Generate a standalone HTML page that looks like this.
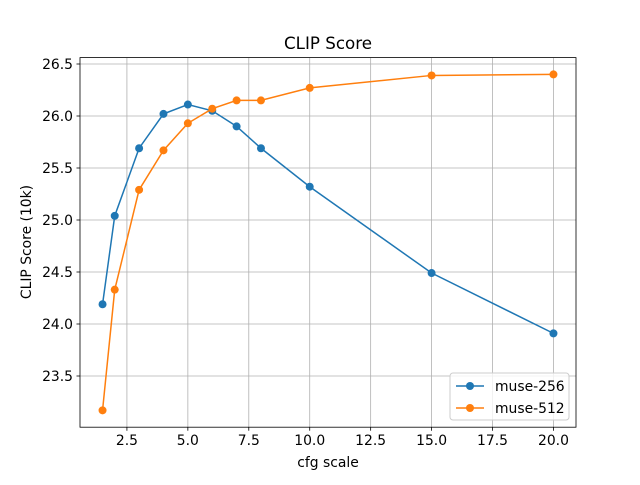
<!DOCTYPE html>
<html><head><meta charset="utf-8"><style>
body{margin:0;background:#fff;}
svg{font-family:"DejaVu Sans","Liberation Sans",sans-serif;}
</style></head><body>
<svg id="chart" width="640" height="480">
<rect width="640" height="480" fill="#fff"/>
<g id="grid"></g><g id="ticks"></g><g id="series"></g>
<rect x="80" y="57.6" width="496" height="369.6" fill="none" stroke="#000" stroke-width="0.8"/>
<text x="328" y="49" font-size="16.7" text-anchor="middle">CLIP Score</text>
<text x="328" y="467" font-size="13.9" text-anchor="middle">cfg scale</text>
<text x="31" y="242" font-size="13.9" text-anchor="middle" transform="rotate(-90 31 242)">CLIP Score (10k)</text>
<g id="legend">
<rect x="450" y="373" width="119" height="47" rx="3" fill="#fff" fill-opacity="0.8" stroke="#ccc"/>
</g>
</svg>
<script>
const cfg=[1.5,2,3,4,5,6,7,8,10,15,20];
const muse256=[24.19,25.04,25.69,26.02,26.11,26.05,25.90,25.69,25.32,24.49,23.91];
const muse512=[23.17,24.33,25.29,25.67,25.93,26.07,26.15,26.15,26.27,26.39,26.40];
const xTicks=[2.5,5.0,7.5,10.0,12.5,15.0,17.5,20.0];
const yTicks=[23.5,24.0,24.5,25.0,25.5,26.0,26.5];
const seriesNames=["muse-256","muse-512"];
const colors=["#1f77b4","#ff7f0e"];
const NS="http://www.w3.org/2000/svg";
const X0=80,X1=576,Y0=427.2,Y1=57.6;
const xmin=0.575,xmax=20.925;
const sx=v=>X0+(v-xmin)/(xmax-xmin)*(X1-X0);
const sy=v=>64+(26.5-v)*104;
function mk(t,a,p){const e=document.createElementNS(NS,t);for(const k in a)e.setAttribute(k,a[k]);p.appendChild(e);return e;}
const grid=document.getElementById('grid'),ticks=document.getElementById('ticks'),ser=document.getElementById('series'),leg=document.getElementById('legend');
xTicks.forEach(v=>{const x=sx(v);
const g=mk('line',{x1:x,x2:x,y1:Y1,y2:Y0,stroke:'#b0b0b0','stroke-width':0.8},grid);


mk('line',{x1:x,x2:x,y1:Y0,y2:Y0+3.5,stroke:'#000','stroke-width':0.8},ticks);
const t=mk('text',{x:x,y:Y0+18,'font-size':13.9,'text-anchor':'middle'},ticks);t.textContent=v.toFixed(1);

});
yTicks.forEach(v=>{const y=sy(v);
const g=mk('line',{x1:X0,x2:X1,y1:y,y2:y,stroke:'#b0b0b0','stroke-width':0.8},grid);


mk('line',{x1:X0-3.5,x2:X0,y1:y,y2:y,stroke:'#000','stroke-width':0.8},ticks);
const t=mk('text',{x:X0-7,y:y+5,'font-size':13.9,'text-anchor':'end'},ticks);t.textContent=v.toFixed(1);

});
[muse256,muse512].forEach((d,i)=>{
const pl=mk('polyline',{points:d.map((v,j)=>sx(cfg[j])+','+sy(v)).join(' '),fill:'none',stroke:colors[i],'stroke-width':1.5},ser);


d.forEach((v,j)=>{const c=mk('circle',{cx:sx(cfg[j]),cy:sy(v),r:4,fill:colors[i]},ser);

});
const ly=386+i*22;
mk('line',{x1:456,x2:484,y1:ly,y2:ly,stroke:colors[i],'stroke-width':1.5},leg);
mk('circle',{cx:470,cy:ly,r:4,fill:colors[i]},leg);
const t=mk('text',{x:495,y:ly+5,'font-size':13.9},leg);t.textContent=seriesNames[i];

});
</script>
</body></html>
